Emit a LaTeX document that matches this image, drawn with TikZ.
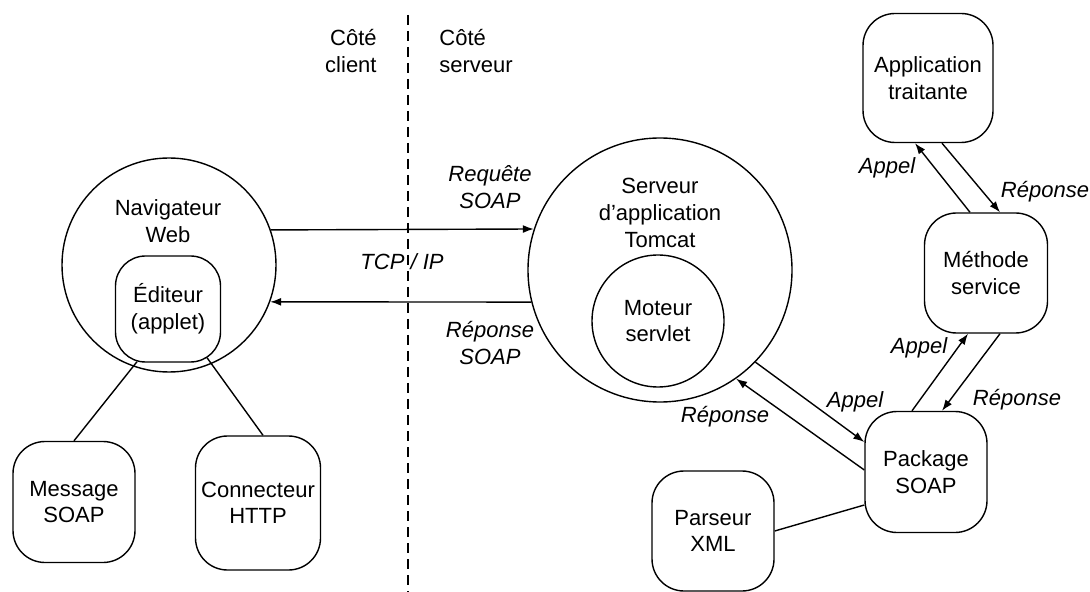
\documentclass[tikz,border=0pt]{standalone}
\usepackage{fontspec}
\setmainfont{Liberation Sans}
\usetikzlibrary{arrows.meta}
\begin{document}
\begin{tikzpicture}[x=0.5pt,y=-0.5pt,
  every node/.style={font=\fontsize{11}{13.3}\selectfont, align=center, inner sep=0pt},
  lbl/.style={font=\fontsize{11}{13.3}\selectfont\itshape},
  bubble/.style={draw, circle, line width=0.7pt, inner sep=0pt},
  rbox/.style={draw, rounded corners=16pt, line width=0.7pt, inner sep=0pt},
  conn/.style={line width=0.7pt},
  arr/.style={line width=0.7pt, -{Latex[length=5.5pt,width=4pt]}},
  sep/.style={line width=0.6pt, dash pattern=on 5pt off 3pt},
]
\fill[white] (0,0) rectangle (1090,592);
\useasboundingbox (0,0) rectangle (1090,592);

% separator
\coordinate (dtop) at (408,15);
\coordinate (dbot) at (408,592);
\draw[sep] (dtop) -- (dbot);
\node[anchor=east, align=right] (cc) at (377,51) {Côté\\client};
\node[anchor=west, align=left] (cs) at (439,51) {Côté\\serveur};

% client side
\node[bubble, minimum size=107pt] (nav) at (169,265) {};
\node (navt) at (168,221) {Navigateur\\Web};
\node[rbox, rounded corners=15pt, minimum width=52.5pt, minimum height=53pt] (edit) at (168,309) {Éditeur\\(applet)};
\node[rbox, minimum width=61pt, minimum height=60.5pt] (msg) at (74,502) {Message\\SOAP};
\node[rbox, minimum width=62.5pt, minimum height=67pt] (conn) at (258,503) {Connecteur\\HTTP};

% server side
\node[bubble, minimum size=132pt] (srv) at (660,270) {};
\node (srvt) at (660,213) {Serveur\\d'application\\Tomcat};
\node[bubble, minimum size=66pt] (mot) at (658,321) {Moteur\\servlet};
\node[rbox, minimum width=65pt, minimum height=64.5pt] (app) at (928,78) {Application\\traitante};
\node[rbox, minimum width=61.5pt, minimum height=60pt] (met) at (986,273) {Méthode\\service};
\node[rbox, minimum width=61pt, minimum height=60.5pt] (pkg) at (926,472) {Package\\SOAP};
\node[rbox, minimum width=61pt, minimum height=60pt] (par) at (713,531) {Parseur\\XML};

% connectors
\draw[conn] ([xshift=-15.5pt,yshift=0.5pt]edit.south) -- (msg.north);
\draw[conn] ([xshift=19.5pt,yshift=2.5pt]edit.south) -- ([xshift=2.5pt]conn.north);
\draw[arr] (nav.19.1) -- (srv.162.4);
\draw[arr] (srv.194.0) -- (nav.-20.2);
\draw[arr] (srv.-44.4) -- ([yshift=15pt]pkg.west);
\draw[arr] ([yshift=1pt]pkg.west) -- (srv.-55);
\draw[arr] ([xshift=-7pt]pkg.north) -- ([xshift=-9pt]met.south);
\draw[arr] ([xshift=7pt]met.south) -- ([xshift=8pt]pkg.north);
\draw[arr] ([xshift=-8pt]met.north) -- ([xshift=-6.5pt]app.south);
\draw[arr] ([xshift=7pt]app.south) -- ([xshift=7pt]met.north);
\draw[conn] (par.east) -- ([yshift=-16.5pt]pkg.west);

% labels
\node[lbl] (tcp) at (402,262) {TCP / IP};
\node[lbl] (req) at (490,187) {Requête\\SOAP};
\node[lbl] (rep) at (490,343) {Réponse\\SOAP};
\node[lbl] (l1) at (855,402) {Appel};
\node[lbl] (l2) at (725,417) {Réponse};
\node[lbl] (l3) at (887,168) {Appel};
\node[lbl] (l4) at (1045,192) {Réponse};
\node[lbl] (l5) at (919,348) {Appel};
\node[lbl] (l6) at (1017,400) {Réponse};
\end{tikzpicture}
\end{document}
